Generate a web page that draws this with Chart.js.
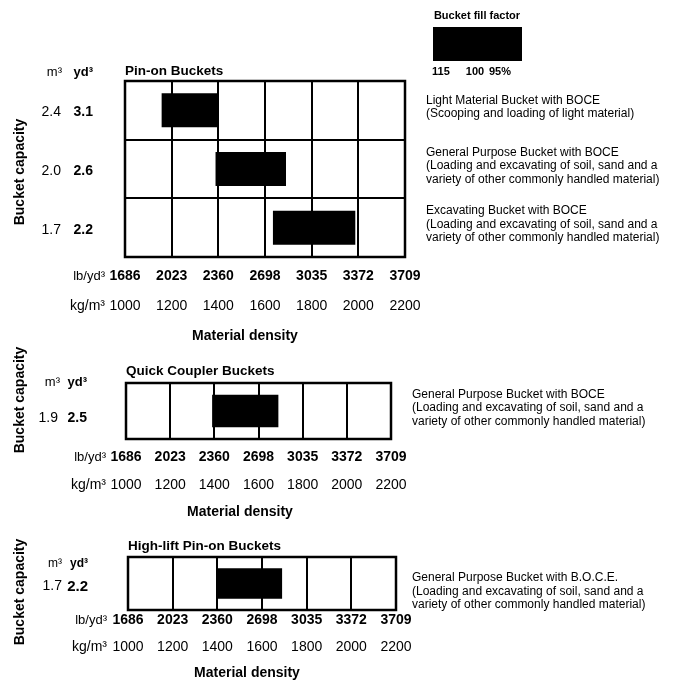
<!DOCTYPE html>
<html>
<head>
<meta charset="utf-8">
<script src="https://cdn.jsdelivr.net/npm/chart.js@4.4.1/dist/chart.umd.min.js"></script>
<style>
html,body{margin:0;padding:0;background:#fff;width:674px;height:681px;overflow:hidden;}
canvas.c{position:absolute;left:0;top:0;}
</style>
</head>
<body>
<canvas id="c1" class="c" width="674" height="681"></canvas>
<canvas id="c2" class="c" width="674" height="681"></canvas>
<canvas id="c3" class="c" width="674" height="681"></canvas>
<script>
// ---------- data ----------
const kgTicks = ['1000','1200','1400','1600','1800','2000','2200'];
const lbTicks = ['1686','2023','2360','2698','3035','3372','3709'];
const fillFactorLabels = ['115','100','95%'];

// Pin-on Buckets
const pinM3 = ['2.4','2.0','1.7'];
const pinYd3 = ['3.1','2.6','2.2'];
const pinRanges = [[1157,1400],[1388,1690],[1634,1987]];
const pinDesc = [
  ['Light Material Bucket with BOCE','(Scooping and loading of light material)'],
  ['General Purpose Bucket with BOCE','(Loading and excavating of soil, sand and a','variety of other commonly handled material)'],
  ['Excavating Bucket with BOCE','(Loading and excavating of soil, sand and a','variety of other commonly handled material)']
];

// Quick Coupler Buckets
const qcM3 = ['1.9'];
const qcYd3 = ['2.5'];
const qcRanges = [[1390,1690]];
const qcDesc = [
  ['General Purpose Bucket with BOCE','(Loading and excavating of soil, sand and a','variety of other commonly handled material)']
];

// High-lift Pin-on Buckets
const hlM3 = ['1.7'];
const hlYd3 = ['2.2'];
const hlRanges = [[1395,1690]];
const hlDesc = [
  ['General Purpose Bucket with B.O.C.E.','(Loading and excavating of soil, sand and a','variety of other commonly handled material)']
];

// ---------- drawing ----------
const FONT = "'Liberation Sans', Arial, sans-serif";
const W = 674, H = 681;

function txt(ctx, s, x, y, size, bold, align) {
  ctx.font = (bold ? 'bold ' : '') + size + 'px ' + FONT;
  ctx.textAlign = align || 'left';
  ctx.textBaseline = 'middle';
  ctx.fillStyle = '#000';
  ctx.fillText(s, x, y);
}

function makePanel(id, c) {
  const a = c.area;
  const bottomPad = H - a.bottom - c.h1 - c.h2;
  return new Chart(document.getElementById(id), {
    type: 'bar',
    data: {
      labels: c.m3,
      datasets: [{
        data: c.ranges,
        backgroundColor: '#000',
        borderWidth: 0,
        barPercentage: 0.58,
        categoryPercentage: 1,
        xAxisID: 'x',
        yAxisID: 'y'
      }]
    },
    options: {
      indexAxis: 'y',
      responsive: false,
      animation: false,
      events: [],
      layout: { padding: { left: 0, top: a.top, right: W - a.right, bottom: bottomPad } },
      plugins: { legend: { display: false }, tooltip: { enabled: false }, title: { display: false } },
      scales: {
        y: {
          type: 'category', position: 'left', weight: 1, offset: true,
          grid: { offset: true, color: '#000', lineWidth: 2, drawTicks: false },
          border: { display: false },
          ticks: { color: '#000', font: { family: FONT, size: 14, lineHeight: 1 }, padding: c.yPad, labelOffset: c.lblOff },
          afterFit: s => { s.width = c.yW; }
        },
        y2: {
          type: 'category', labels: c.yd3, position: 'left', weight: 0, offset: true,
          grid: { display: false, drawTicks: false },
          border: { display: false },
          ticks: { color: '#000', font: { family: FONT, size: c.ydSize || 14, weight: 'bold', lineHeight: 1 }, padding: c.y2Pad, labelOffset: c.lblOff },
          afterFit: s => { s.width = a.left - c.yW; }
        },
        xlb: {
          type: 'linear', position: 'bottom', weight: 0, min: 1000, max: 2200,
          grid: { color: '#000', lineWidth: 2, drawTicks: false },
          border: { display: false },
          ticks: { stepSize: 200, autoSkip: false, maxRotation: 0, minRotation: 0, color: '#000',
                   font: { family: FONT, size: 14, weight: 'bold', lineHeight: 1 }, padding: c.lbPad,
                   callback: (v, i) => lbTicks[i] },
          afterFit: s => { s.height = c.h1; }
        },
        x: {
          type: 'linear', position: 'bottom', weight: 1, min: 1000, max: 2200,
          grid: { display: false, drawTicks: false },
          border: { display: false },
          ticks: { stepSize: 200, autoSkip: false, maxRotation: 0, minRotation: 0, color: '#000',
                   font: { family: FONT, size: 14, lineHeight: 1 }, padding: c.kgPad,
                   callback: (v, i) => kgTicks[i] },
          afterFit: s => { s.height = c.h2; }
        }
      }
    },
    plugins: [{
      id: 'panelText',
      afterDraw(chart) {
        const ctx = chart.ctx;
        const ca = chart.chartArea;
        ctx.save();
        // outer frame
        ctx.strokeStyle = '#000';
        ctx.lineWidth = 2.5;
        ctx.strokeRect(ca.left, ca.top, ca.right - ca.left, ca.bottom - ca.top);
        // title
        txt(ctx, c.title, ca.left, c.titleY, 13.5, true, 'left');
        // column headers
        txt(ctx, 'm³', c.mRight, c.headY, c.headSize, false, 'right');
        txt(ctx, 'yd³', c.ydRight, c.headY, c.headSize, true, 'right');
        // unit labels for the two tick rows
        const sl = chart.scales.xlb, sk = chart.scales.x;
        const lbY = sl.top + sl.options.ticks.padding + 7;
        const kgY = sk.top + sk.options.ticks.padding + 7;
        txt(ctx, 'lb/yd³', c.unitRight, lbY, 13, false, 'right');
        txt(ctx, 'kg/m³', c.unitRight, kgY, 14, false, 'right');
        // axis titles
        txt(ctx, 'Material density', c.mdX, c.mdY, 14, true, 'center');
        ctx.save();
        ctx.translate(20, c.bcY);
        ctx.rotate(-Math.PI / 2);
        txt(ctx, 'Bucket capacity', 0, 0, 14, true, 'center');
        ctx.restore();
        // descriptions
        const ys = chart.scales.y;
        c.desc.forEach((lines, i) => {
          const cy = ys.getPixelForValue(i) + c.descOff;
          const y0 = cy - (lines.length - 1) * c.descLH / 2;
          lines.forEach((ln, k) => txt(ctx, ln, c.descX, y0 + k * c.descLH, 12, false, 'left'));
        });
        // fill-factor legend
        if (c.legend) {
          txt(ctx, 'Bucket fill factor', 477, 16, 11, true, 'center');
          ctx.fillStyle = '#000';
          ctx.fillRect(433, 27, 89, 34);
          txt(ctx, fillFactorLabels[0], 432, 72, 11, true, 'left');
          txt(ctx, fillFactorLabels[1], 475, 72, 11, true, 'center');
          txt(ctx, fillFactorLabels[2], 489, 72, 11, true, 'left');
        }
        ctx.restore();
      }
    }]
  });
}

makePanel('c1', {
  m3: pinM3, yd3: pinYd3, ranges: pinRanges, desc: pinDesc, title: 'Pin-on Buckets', legend: true,
  area: { left: 125, right: 405, top: 81, bottom: 257 },
  yW: 62, yPad: 1, y2Pad: 32, lblOff: 2,
  h1: 30, lbPad: 12, h2: 30, kgPad: 12,
  titleY: 71, headY: 72, headSize: 13, mRight: 62, ydRight: 93, unitRight: 105,
  mdX: 245, mdY: 336, bcY: 172,
  descX: 426, descLH: 13.5, descOff: -3
});

makePanel('c2', {
  m3: qcM3, yd3: qcYd3, ranges: qcRanges, desc: qcDesc, title: 'Quick Coupler Buckets', legend: false,
  area: { left: 126, right: 391, top: 383, bottom: 439 },
  yW: 59, yPad: 1, y2Pad: 39, lblOff: 7,
  h1: 28, lbPad: 11, h2: 28, kgPad: 11,
  titleY: 371, headY: 382, headSize: 13, mRight: 60, ydRight: 87, unitRight: 106,
  mdX: 240, mdY: 512, bcY: 400,
  descX: 412, descLH: 13.5, descOff: -3
});

makePanel('c3', {
  m3: hlM3, yd3: hlYd3, ranges: hlRanges, desc: hlDesc, title: 'High-lift Pin-on Buckets', legend: false,
  area: { left: 128, right: 396, top: 557, bottom: 610 },
  yW: 63, yPad: 1, y2Pad: 40, lblOff: 3, ydSize: 15,
  h1: 24, lbPad: 3, h2: 24, kgPad: 6,
  titleY: 546, headY: 564, headSize: 12, mRight: 62, ydRight: 88, unitRight: 107,
  mdX: 247, mdY: 673, bcY: 592,
  descX: 412, descLH: 13.5, descOff: 8
});
</script>
</body>
</html>
